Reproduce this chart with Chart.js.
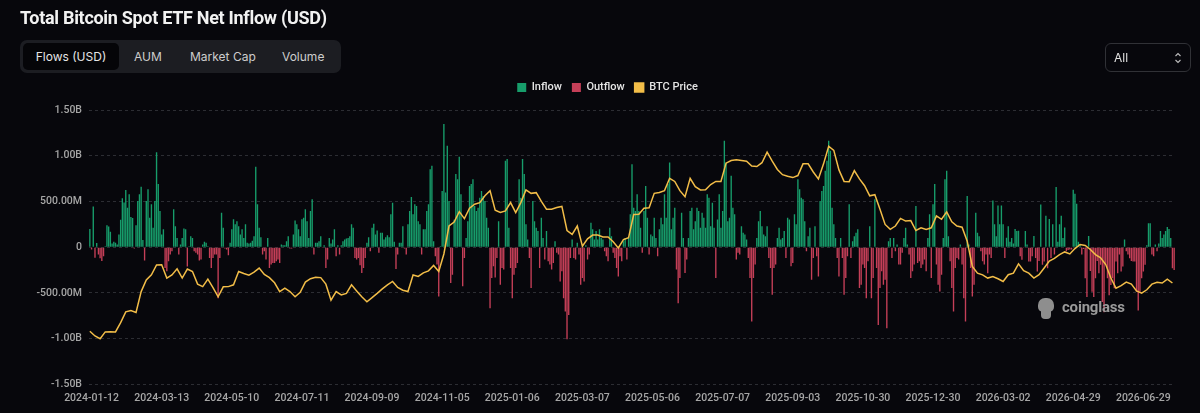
<!DOCTYPE html>
<html>
<head>
<meta charset="utf-8">
<title>Total Bitcoin Spot ETF Net Inflow (USD)</title>
<script src="https://cdn.jsdelivr.net/npm/chart.js@4.4.1/dist/chart.umd.min.js"></script>
<style>
  html, body { margin: 0; padding: 0; width: 1200px; height: 413px; overflow: hidden; background: #07070c; }
  #wrap { position: absolute; left: 0; top: 0; width: 1200px; height: 413px; }
  .title { position: absolute; left: 20px; top: 7px; color: #f2f2f2; font: 700 18px/22px Roboto, sans-serif; letter-spacing: -0.3px; z-index: 2; }
  .tabs { position: absolute; left: 20px; top: 40px; width: 321px; height: 33px; background: #1c1d22; border-radius: 7px; z-index: 2; }
  .tab { position: absolute; top: 3px; height: 27px; color: #cdcdcd; font: 400 12px/27px Inter, sans-serif; }
  .tab.active { left: 3px; width: 96px; background: #050508; border-radius: 5px; text-align: center; color: #e6e6e6; }
  .select { position: absolute; left: 1105px; top: 43px; width: 84px; height: 27px; border: 1px solid #303136; border-radius: 6px; z-index: 2; }
  .select span { position: absolute; left: 8px; top: 0; color: #e0e0e0; font: 400 12px/27px Inter, sans-serif; }
  .select svg { position: absolute; right: 8px; top: 8px; }
  .wm { position: absolute; left: 1036px; top: 297px; height: 24px; z-index: 2; }
  .wm .head { position: absolute; left: 2px; top: 1px; width: 16px; height: 14px; background: #8e8e8e; border-radius: 7px 7px 5px 5px; }
  .wm .body { position: absolute; left: 5px; top: 12px; width: 10px; height: 10px; background: #8e8e8e; border-radius: 2px 2px 4px 4px; }
  .wm .txt { position: absolute; left: 26px; top: 0; color: #9a9a9a; font: 700 15px/20px Roboto, sans-serif; letter-spacing: -0.2px; }
</style>
</head>
<body>
<div id="wrap"><canvas id="flowChart"></canvas></div>
<div class="title">Total Bitcoin Spot ETF Net Inflow (USD)</div>
<div class="tabs">
  <div class="tab active">Flows (USD)</div>
  <div class="tab" style="left:114px">AUM</div>
  <div class="tab" style="left:170px">Market Cap</div>
  <div class="tab" style="left:262px">Volume</div>
</div>
<div class="select"><span>All</span>
  <svg width="8" height="12" viewBox="0 0 8 12"><polyline points="1.5,4 4,1.5 6.5,4" fill="none" stroke="#bdbdbd" stroke-width="1.1"/><polyline points="1.5,8 4,10.5 6.5,8" fill="none" stroke="#bdbdbd" stroke-width="1.1"/></svg>
</div>
<div class="wm"><div class="head"></div><div class="body"></div><div class="txt">coinglass</div></div>
<script>
// Net flow per trading day, millions USD (from 2024-01-11)
const netFlows = [
  200,-25,445,-115,45,-80,-120,-150,-100,10,240,225,170,40,60,50,30,140,300,535,490,625,430,580,330,320,
  -15,
  240,505,580,660,80,-145,505,634,322,470,212,505,1037,690,395,140,195,-227,-264,-154,-80,-44,414,230,100,-80,30,100,205,195,
  -210,10,120,100,-44,-60,-80,-146,-135,30,60,48,10,-117,-227,-117,-80,-80,-557,-117,377,212,-15,-25,-88,48,195,305,250,285,
  230,140,195,100,250,48,40,48,70,120,880,470,212,110,-80,-44,
  -135,100,-227,-190,-172,-172,-154,-135,-172,30,20,20,65,120,-15,-15,140,293,250,195,
  120,305,322,414,285,100,395,524,-80,48,48,65,120,-10,20,-227,-135,100,40,84,
  195,-98,20,-80,20,65,84,95,100,120,250,212,-117,-135,-117,-198,-282,-227,-117,48,
  110,-44,212,256,140,183,-62,157,157,84,110,132,110,360,487,60,-238,-80,48,48,
  230,-15,-80,250,395,550,360,470,450,285,250,-80,195,195,395,470,853,890,65,-98,
  -190,-538,10,615,1348,597,1110,
  505,-392,-300,300,800,743,989,580,-428,-117,100,285,670,690,743,450,395,432,542,615,
  560,505,322,212,-667,-337,-209,-330,-117,285,-410,-227,-245,945,963,212,-227,-557,-300,-227,
  -172,743,542,963,800,250,84,-117,-447,505,285,212,176,-227,322,100,-135,176,-154,-190,
  -245,-172,65,-62,-80,-374,-264,-557,-703,-1007,-740,-117,84,-117,-135,48,-80,-410,-337,-374,
  20,-135,-80,267,195,84,176,84,195,100,84,-44,-98,-154,212,120,-62,-117,-227,-319,
  -98,-154,65,100,-135,
  100,360,908,432,395,580,395,212,-62,395,670,322,-80,140,120,322,100,-98,195,322,
  250,580,322,690,927,195,322,432,-245,-612,-337,377,100,-282,-135,100,395,432,195,285,
  432,395,212,377,322,212,580,542,230,487,212,-337,304,580,212,395,1165,927,285,322,
  780,432,360,-135,-62,-80,230,157,140,84,-117,-337,-813,-337,-190,100,285,395,230,140,
  120,230,-117,-227,-520,-227,-190,100,212,84,100,176,-117,322,304,-209,-172,360,250,743,
  634,542,524,285,-44,
  120,212,-355,-117,230,-98,-319,505,615,670,835,945,1165,1055,432,250,100,-117,-319,100,
  -117,-520,-337,-98,470,-117,65,120,157,195,-447,-410,-190,-227,-557,-154,230,-557,-337,524,
  -227,-850,-447,-264,-410,-355,-887,65,100,-117,100,-44,30,-190,-190,-62,100,212,30,-80,
  -337,-264,-190,450,-172,-154,-227,-190,-135,-264,100,360,-337,470,690,-190,-410,-483,-300,100,
  743,835,120,-154,-447,-703,-227,-117,-135,30,-190,-557,-813,560,30,-227,-538,-410,377,157,
  120,-44,-154,-190,-80,
  -285,-80,-118,510,250,120,455,251,455,251,-118,103,230,60,100,40,200,178,180,-100,
  -137,-10,178,30,-155,-155,-100,122,-118,-266,-150,466,-192,-155,344,-230,307,-118,251,-80,
  659,60,251,344,100,215,-44,-30,-25,-25,629,585,474,60,30,-80,-20,-340,-544,122,
  -260,-488,-544,-340,-150,-285,-192,-600,-711,-192,-340,-525,-414,-340,-450,-155,-285,-80,-266,-210,
  85,-44,-80,-120,-150,-155,-155,-488,-692,-488,-340,-266,-192,20,263,263,-80,-100,30,-44,
  40,178,100,140,178,222,200,100,-230,-248
];

// BTC price, thousand USD, one reading every 3rd trading day
const priceStep = 3;
const btcPrice = [
  42.8,40.7,39.5,42.5,42.6,42.5,46.6,51.4,52.0,51.1,60.4,65.6,67.8,72.2,72.3,66.4,67.8,70.5,66.4,70.4,
  69.3,63.7,62.6,65.9,62.2,58.1,62.5,62.6,63.4,69.3,68.4,67.7,69.0,70.8,68.0,
  66.6,64.3,60.4,61.9,60.4,58.1,60.1,64.6,66.1,66.8,66.6,63.7,56.6,60.4,58.9,59.6,63.4,60.7,58.1,55.9,
  57.7,59.6,61.6,63.4,64.9,62.2,61.0,60.4,67.8,67.1,68.7,69.6,72.0,69.3,77.1,89.5,
  91.3,95.9,92.8,97.4,99.2,99.9,102.9,105.2,96.5,95.5,96.2,99.9,95.5,99.9,105.5,104.0,104.3,100.4,97.0,97.0,
  97.7,98.2,87.5,85.8,89.5,80.5,83.8,85.5,85.5,84.6,84.6,82.5,79.8,83.5,84.3,
  94.6,94.7,97.4,97.6,104.0,104.4,105.2,110.7,109.3,105.2,102.5,110.7,107.0,105.5,105.6,107.9,109.3,109.3,117.4,118.6,
  118.9,118.6,118.3,116.1,115.9,117.6,122.3,118.3,114.6,112.3,111.6,111.0,111.9,117.1,117.1,
  113.5,110.4,117.1,124.9,123.1,114.4,109.3,109.2,114.1,110.4,107.4,102.9,103.4,97.0,90.2,88.0,89.5,92.9,91.7,91.9,
  87.5,88.7,88.0,88.7,94.0,92.5,95.8,91.4,89.5,89.0,82.8,71.6,68.6,67.8,66.4,
  67.1,66.1,64.9,67.9,68.6,72.7,69.7,68.6,66.4,67.9,70.9,73.9,75.1,76.8,78.0,77.1,79.5,81.3,80.9,79.1,
  76.8,75.4,72.4,66.4,61.9,63.0,64.6,63.7,60.7,59.7,61.2,63.7,64.5,64.2,65.9,64.2
];

const tickLabels = [
  '2024-01-12','2024-03-13','2024-05-10','2024-07-11','2024-09-09','2024-11-05','2025-01-06','2025-03-07',
  '2025-05-06','2025-07-07','2025-09-03','2025-10-30','2025-12-30','2026-03-02','2026-04-29','2026-06-29'
];

const firstDay = '2024-01-11';
const marketHolidays = [
  '2024-01-15','2024-02-19','2024-03-29','2024-05-27','2024-06-19','2024-07-04','2024-09-02','2024-11-28','2024-12-25',
  '2025-01-01','2025-01-09','2025-01-20','2025-02-17','2025-04-18','2025-05-26','2025-06-19','2025-07-04','2025-09-01',
  '2025-11-27','2025-12-25','2026-01-01','2026-01-19','2026-02-16','2026-04-03','2026-05-25','2026-06-19','2026-07-03'
];

// trading-day labels, one per bar
function tradingDays(start, count) {
  const out = [];
  const d = new Date(start + 'T00:00:00Z');
  while (out.length < count) {
    const s = d.toISOString().slice(0, 10);
    const wd = d.getUTCDay();
    if (wd !== 0 && wd !== 6 && !marketHolidays.includes(s)) out.push(s);
    d.setUTCDate(d.getUTCDate() + 1);
  }
  return out;
}
const dates = tradingDays(firstDay, netFlows.length);

const GREEN = '#179d6b';
const RED = '#c53f58';
const GOLD = '#f2bd48';
const tickFont = { family: 'Roboto', size: 10.5, weight: '500' };

const fmtFlow = v => {
  if (v === 0) return '0';
  return Math.abs(v) >= 1000 ? (v / 1000).toFixed(2) + 'B' : v.toFixed(2) + 'M';
};

// more room under the legend, and nudge it right a little
const legendGap = {
  id: 'legendGap',
  beforeInit(chart) {
    const fit = chart.legend.fit;
    chart.legend.fit = function () {
      fit.call(this);
      this.height += 7;
    };
  },
  afterLayout(chart) {
    chart.legend.left += 40;
  }
};

const ctx = document.getElementById('flowChart').getContext('2d');
new Chart(ctx, {
  data: {
    labels: dates,
    datasets: [
      {
        type: 'bar',
        label: 'Inflow',
        data: netFlows.map(v => v > 0 ? v : null),
        backgroundColor: GREEN,
        barPercentage: 0.8,
        categoryPercentage: 1,
        yAxisID: 'y',
        order: 2
      },
      {
        type: 'bar',
        label: 'Outflow',
        data: netFlows.map(v => v < 0 ? v : null),
        backgroundColor: RED,
        barPercentage: 0.8,
        categoryPercentage: 1,
        yAxisID: 'y',
        order: 2
      },
      {
        type: 'line',
        label: 'BTC Price',
        data: dates.map((_, i) => i % priceStep === 0 ? (btcPrice[i / priceStep] ?? null) : null),
        borderColor: GOLD,
        backgroundColor: GOLD,
        borderWidth: 1.5,
        pointRadius: 0,
        spanGaps: true,
        tension: 0,
        yAxisID: 'y1',
        order: 1
      }
    ]
  },
  options: {
    responsive: true,
    maintainAspectRatio: false,
    animation: false,
    layout: { padding: { top: 72, right: 25, bottom: 0, left: 0 } },
    plugins: {
      legend: {
        position: 'top',
        labels: {
          color: '#e4e4e4',
          boxWidth: 9,
          boxHeight: 9,
          padding: 10,
          font: { family: 'Roboto', size: 11, weight: '500' },
          sort: (a, b) => a.datasetIndex - b.datasetIndex
        }
      },
      tooltip: { enabled: false }
    },
    scales: {
      x: {
        stacked: true,
        grid: { display: false, drawTicks: false },
        border: { display: false },
        ticks: {
          autoSkip: false,
          maxRotation: 0,
          color: '#a6a6a6',
          font: tickFont,
          padding: 8,
          callback(value) {
            const lbl = this.getLabelForValue(value);
            return tickLabels.includes(lbl) ? lbl : '';
          }
        }
      },
      y: {
        stacked: true,
        min: -1500,
        max: 1500,
        afterFit(scale) { scale.width = 89; },
        grid: { color: '#2c2d33', drawTicks: false, lineWidth: 1 },
        border: { display: false, dash: [3, 3] },
        ticks: {
          stepSize: 500,
          color: '#a6a6a6',
          font: tickFont,
          padding: 7,
          callback: v => fmtFlow(v)
        }
      },
      y1: {
        display: false,
        min: 19.2,
        max: 141
      }
    }
  },
  plugins: [legendGap]
});
</script>
</body>
</html>
